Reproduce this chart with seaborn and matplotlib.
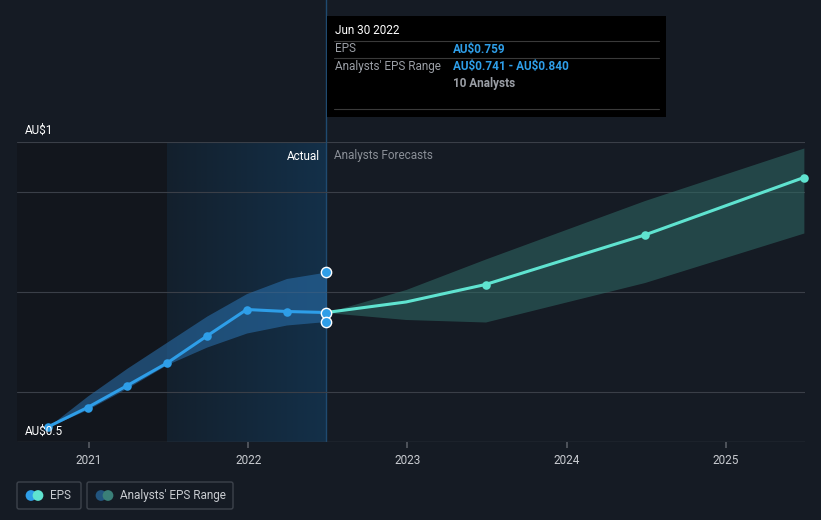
import numpy as np
import pandas as pd
import matplotlib
matplotlib.use("Agg")
import matplotlib.pyplot as plt
import seaborn as sns
from matplotlib.patches import FancyBboxPatch

# past EPS (quarterly, decimal years)
actual_dates = [2020.74, 2020.99, 2021.24, 2021.49, 2021.74, 2021.99, 2022.24, 2022.49]
actual_eps = [0.530, 0.569, 0.613, 0.658, 0.712, 0.765, 0.761, 0.759]
actual_low = [0.530, 0.565, 0.608, 0.655, 0.690, 0.718, 0.734, 0.741]
actual_high = [0.530, 0.592, 0.648, 0.700, 0.752, 0.797, 0.827, 0.840]

# analyst forecasts
fc_dates = [2022.49, 2022.99, 2023.49, 2024.49, 2025.49]
fc_eps = [0.759, 0.780, 0.815, 0.914, 1.029]
fc_low = [0.759, 0.745, 0.740, 0.819, 0.918]
fc_high = [0.759, 0.805, 0.866, 0.983, 1.088]

year_ticks = [2021, 2022, 2023, 2024, 2025]
grid_vals = [0.6, 0.8, 1.0, 1.1]

BG = "#151b24"
BLUE = "#2e9ee8"
TEAL = "#5fe3d0"

sns.set_theme(style="dark")
plt.rcParams['font.family'] = ['Roboto', 'DejaVu Sans']

fig = plt.figure(figsize=(8.21, 5.20), dpi=100, facecolor=BG)
ax = fig.add_axes([17 / 821, 78 / 520, 788 / 821, 300 / 520])
ax.set_facecolor(BG)
ax.set_xlim(2020.547, 2025.497)
ax.set_ylim(0.5, 1.1)

# shaded past regions
ax.axvspan(2020.547, 2021.49, color="#12161d", zorder=0)
grad = np.linspace(0, 1, 256).reshape(1, -1)
ax.imshow(grad, extent=[2021.49, 2022.49, 0.5, 1.1], aspect="auto",
          cmap=matplotlib.colors.LinearSegmentedColormap.from_list("g", ["#13202d", "#133049"]),
          zorder=0.5)
ax.axvline(2022.49, color="#1f4a70", lw=1, zorder=1)
ax.plot([2022.49, 2022.49], [1.1, 1.5], color="#1f4a70", lw=1, clip_on=False)

for g in grid_vals:
    ax.axhline(g, color="#3a3f48", lw=0.8, zorder=1)
ax.axhline(0.5, color="#3a3f48", lw=1, zorder=1)

# bands
ax.fill_between(actual_dates, actual_low, actual_high, color="#2a72b0", alpha=0.55, lw=0, zorder=2)
ax.fill_between(fc_dates, fc_low, fc_high, color="#2f6b66", alpha=0.55, lw=0, zorder=2)

df_a = pd.DataFrame({"date": actual_dates, "eps": actual_eps})
df_f = pd.DataFrame({"date": fc_dates, "eps": fc_eps})
sns.lineplot(data=df_a, x="date", y="eps", ax=ax, color=BLUE, lw=2.2, zorder=3)
sns.lineplot(data=df_f, x="date", y="eps", ax=ax, color=TEAL, lw=2.2, zorder=3)
ax.scatter(actual_dates[:-1], actual_eps[:-1], s=38, color=BLUE, zorder=4, lw=0)
ax.scatter(fc_dates[2:], fc_eps[2:], s=38, color=TEAL, zorder=4, lw=0, clip_on=False)
ax.scatter([actual_dates[-1]] * 3, [actual_eps[-1], actual_low[-1], actual_high[-1]],
           s=55, color=BLUE, edgecolor="white", lw=1, zorder=5)

ax.set_xticks(year_ticks)
ax.set_xticklabels([str(y) for y in year_ticks], color="#c8cbd0", fontsize=8.5)
ax.set_yticks([])
ax.tick_params(axis="x", length=4, color="#555a62", pad=5, bottom=True)
ax.set_xlabel("")
ax.set_ylabel("")
ax.grid(False)
for s in ax.spines.values():
    s.set_visible(False)

ax.text(2022.45, 1.072, "Actual", color="white", fontsize=8.5, ha="right", va="center")
ax.text(2022.54, 1.072, "Analysts Forecasts", color="#8a8f97", fontsize=8.5, ha="left", va="center")

fig.text(25 / 821, 1 - 130 / 520, "AU\\$1", color="white", fontsize=8.5, va="center")
fig.text(25 / 821, 1 - 431 / 520, "AU\\$0.5", color="white", fontsize=8.5, va="center")

# tooltip box
tip = fig.add_axes([327 / 821, 1 - 117 / 520, 339 / 821, 101 / 520])
tip.set_facecolor("black")
tip.set_xlim(0, 339)
tip.set_ylim(101, 0)
tip.set_xticks([])
tip.set_yticks([])
for s in tip.spines.values():
    s.set_visible(False)
tip.text(8, 15, "Jun 30 2022", color="white", fontsize=8.5, va="center")
for yy in [25, 42, 93]:
    tip.plot([7, 332], [yy, yy], color="#3a3a3a", lw=0.8)
tip.text(8, 33, "EPS", color="#9a9ea5", fontsize=8.5, va="center")
tip.text(126, 33, "AU\\$0.759", color=BLUE, fontsize=8.5, va="center", fontweight="bold")
tip.text(8, 50.5, "Analysts' EPS Range", color="#9a9ea5", fontsize=8.5, va="center")
tip.text(126, 50.5, "AU\\$0.741 - AU\\$0.840", color=BLUE, fontsize=8.5, va="center", fontweight="bold")
tip.text(126, 67, "10 Analysts", color="#9a9ea5", fontsize=8.5, va="center", fontweight="bold")

# legend
leg = fig.add_axes([0, 0, 1, 1], facecolor="none")
leg.set_xlim(0, 821)
leg.set_ylim(520, 0)
leg.axis("off")
for x0, w in [(17, 64), (87, 146)]:
    leg.add_patch(FancyBboxPatch((x0, 482), w, 27, boxstyle="round,pad=0,rounding_size=2",
                                 fc="none", ec="#3d434c", lw=1))
leg.scatter([31, 38], [495.5, 495.5], s=60, color=[BLUE, TEAL], lw=0)
leg.text(50, 495.5, "EPS", color="#c8cbd0", fontsize=8.5, va="center")
leg.scatter([101, 108], [495.5, 495.5], s=60, color=["#22557f", "#3a7f78"], lw=0)
leg.text(120, 495.5, "Analysts' EPS Range", color="#c8cbd0", fontsize=8.5, va="center")

fig.savefig("out.png", dpi=100, facecolor=BG)
